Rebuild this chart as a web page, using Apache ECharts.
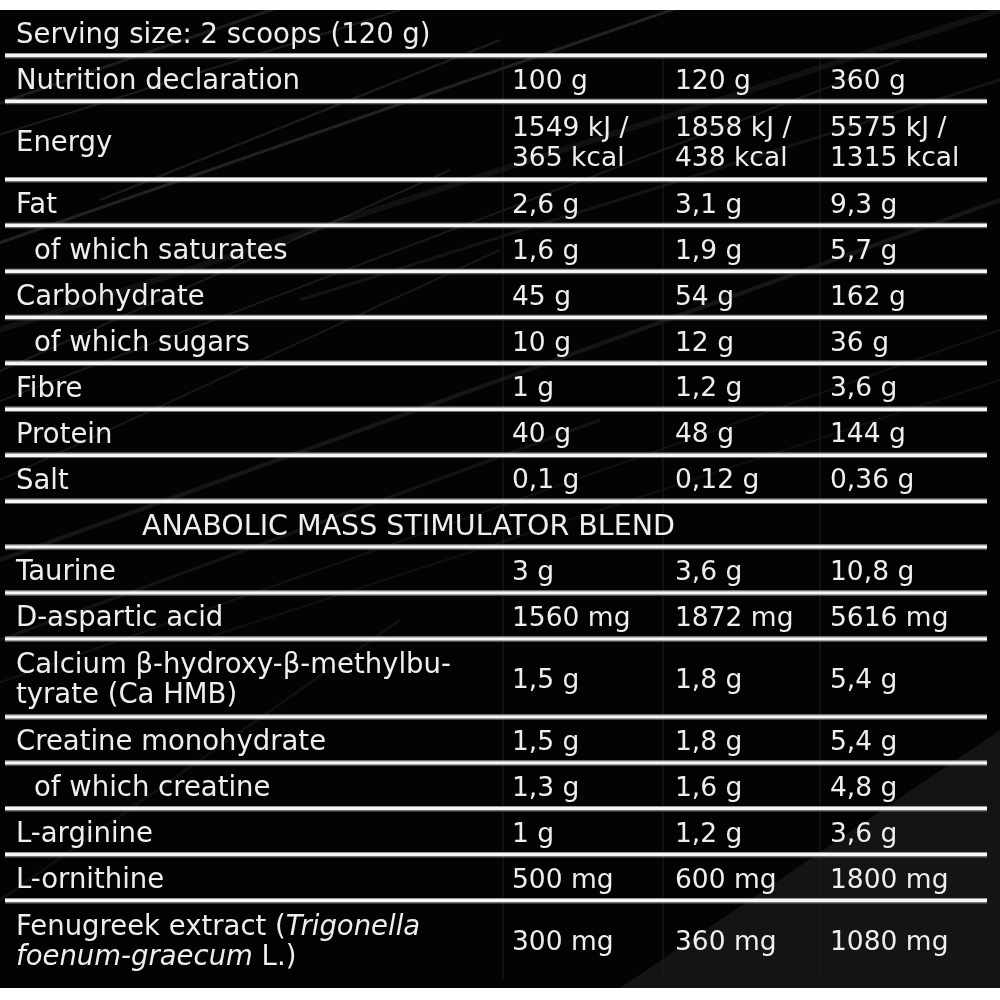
<!DOCTYPE html>
<html>
<head>
<meta charset="utf-8">
<script src="https://cdn.jsdelivr.net/npm/echarts@6/dist/echarts.min.js"></script>
<style>
html,body{margin:0;padding:0;background:#fff;}
#chart{width:1000px;height:1000px;}
</style>
</head>
<body>
<div id="chart"></div>
<script>
// ---- data ----
const servingText = 'Serving size: 2 scoops (120 g)';
const declarationLabel = 'Nutrition declaration';
const columnHeaders = ['100 g', '120 g', '360 g'];
const sectionTitle = 'ANABOLIC MASS STIMULATOR BLEND';

const nutrients = ['Energy', 'Fat', 'of which saturates', 'Carbohydrate', 'of which sugars', 'Fibre', 'Protein', 'Salt'];
const nutr100 = ['1549 kJ /\n365 kcal', '2,6 g', '1,6 g', '45 g', '10 g', '1 g', '40 g', '0,1 g'];
const nutr120 = ['1858 kJ /\n438 kcal', '3,1 g', '1,9 g', '54 g', '12 g', '1,2 g', '48 g', '0,12 g'];
const nutr360 = ['5575 kJ /\n1315 kcal', '9,3 g', '5,7 g', '162 g', '36 g', '3,6 g', '144 g', '0,36 g'];

const blendItems = ['Taurine', 'D-aspartic acid', 'Calcium β-hydroxy-β-methylbu-\ntyrate (Ca HMB)', 'Creatine monohydrate', 'of which creatine', 'L-arginine', 'L-ornithine', 'Fenugreek extract ({i|Trigonella}\n{i|foenum-graecum} L.)'];
const blend100 = ['3 g', '1560 mg', '1,5 g', '1,5 g', '1,3 g', '1 g', '500 mg', '300 mg'];
const blend120 = ['3,6 g', '1872 mg', '1,8 g', '1,8 g', '1,6 g', '1,2 g', '600 mg', '360 mg'];
const blend360 = ['10,8 g', '5616 mg', '5,4 g', '5,4 g', '4,8 g', '3,6 g', '1800 mg', '1080 mg'];

// ---- build table rows ----
const rows = [];
rows.push({kind: 'serving', label: servingText, vals: []});
rows.push({kind: 'row', label: declarationLabel, vals: columnHeaders});
nutrients.forEach((n, i) => rows.push({kind: 'row', label: n, vals: [nutr100[i], nutr120[i], nutr360[i]]}));
rows.push({kind: 'section', label: sectionTitle, vals: []});
blendItems.forEach((n, i) => rows.push({kind: 'row', label: n, vals: [blend100[i], blend120[i], blend360[i]]}));

function lineCount(r) {
  let m = r.label.split('\n').length;
  r.vals.forEach(v => { m = Math.max(m, v.split('\n').length); });
  return m;
}
const spans = rows.map(r => lineCount(r) === 1 ? 1 : 1.7);
const starts = [];
let acc = 0;
spans.forEach(s => { starts.push(acc); acc += s; });
const totalUnits = acc;

// ---- layout / style ----
const FONT = '"DejaVu Sans"';
const FS_LABEL = 27.5;
const FS_VALUE = 26.5;
const FS_SECTION = 28.5;
const colX = [16, 512, 675, 830];
const indentX = 34;
const sectionX = 142;
const lineLeft = 5, lineRight = 987;
const sepX = [503, 663, 820];

function renderRow(params, api) {
  const idx = api.value(0);
  const r = rows[idx];
  const pTop = api.coord([0, starts[idx]]);
  const pBot = api.coord([0, starts[idx] + spans[idx]]);
  const y0 = pTop[1], y1 = pBot[1];
  const cy = (y0 + y1) / 2 + 3;
  const children = [];
  if (r.kind !== 'serving') {
    sepX.forEach(x => {
      const px = api.coord([x, 0])[0];
      children.push({type: 'rect', shape: {x: px - 0.5, y: y0, width: 1, height: y1 - y0}, style: {fill: '#1e1e1e'}, z2: 1});
    });
  }
  if (idx > 0) {
    const xl = api.coord([lineLeft, 0])[0], xr = api.coord([lineRight, 0])[0];
    children.push({type: 'rect', shape: {x: xl, y: y0 - 3, width: xr - xl, height: 1}, style: {fill: '#9a9a9a'}, z2: 5});
    children.push({type: 'rect', shape: {x: xl, y: y0 - 2, width: xr - xl, height: 3.5}, style: {fill: '#f6f6f6'}, z2: 5});
    children.push({type: 'rect', shape: {x: xl, y: y0 + 1.5, width: xr - xl, height: 1}, style: {fill: '#6a6a6a'}, z2: 5});
  }
  const textStyle = (txt, x, fs) => ({
    type: 'text', z2: 10,
    style: {
      text: txt, x: x, y: cy, fill: '#eeeeee', fontFamily: FONT, fontSize: fs,
      verticalAlign: 'middle', align: 'left', lineHeight: 30,
      rich: {i: {fontStyle: 'italic', fontFamily: FONT, fontSize: fs, fill: '#eeeeee', lineHeight: 30}}
    }
  });
  let lx = colX[0];
  let fs = FS_LABEL;
  if (r.kind === 'section') { lx = sectionX; fs = FS_SECTION; }
  else if (/^of which/.test(r.label)) lx = indentX;
  children.push(textStyle(r.label, api.coord([lx, 0])[0], fs));
  r.vals.forEach((v, k) => children.push(textStyle(v, api.coord([colX[k + 1], 0])[0], FS_VALUE)));
  return {type: 'group', children: children};
}

// background streaks (decorative)
const streaks = [
  [-50, 260, 700, 0, 0.12, 3], [-50, 420, 900, 60, 0.09, 2], [0, 560, 1000, 200, 0.08, 4],
  [-50, 700, 1000, 330, 0.06, 2], [100, 200, 500, 40, 0.10, 2], [0, 330, 1000, 10, 0.06, 6],
  [0, 640, 600, 420, 0.07, 3], [200, 640, 1000, 380, 0.05, 2], [-50, 150, 400, 10, 0.10, 2],
  [-20, 110, 300, 0, 0.10, 3], [0, 480, 500, 250, 0.08, 2], [300, 300, 1000, 80, 0.07, 3],
  [-20, 380, 450, 170, 0.09, 2], [0, 900, 400, 620, 0.05, 3]
];
const graphics = [
  {type: 'rect', z: -10, shape: {x: 0, y: 10, width: 1000, height: 978}, style: {fill: '#030303'}},
  {type: 'polygon', z: -9, shape: {points: [[620, 988], [1000, 730], [1000, 988]]}, style: {fill: '#141414'}}
];
streaks.forEach(s => graphics.push({type: 'line', z: -8, shape: {x1: s[0], y1: s[1], x2: s[2], y2: s[3]}, style: {stroke: 'rgba(255,255,255,' + s[4] + ')', lineWidth: s[5]}}));
graphics.push({type: 'rect', z: -7, shape: {x: 0, y: 0, width: 1000, height: 10}, style: {fill: '#fff'}});
graphics.push({type: 'rect', z: -7, shape: {x: 0, y: 988, width: 1000, height: 12}, style: {fill: '#fff'}});

const chart = echarts.init(document.getElementById('chart'), null, {renderer: 'canvas'});
chart.setOption({
  backgroundColor: '#ffffff',
  animation: false,
  graphic: graphics,
  grid: {left: 0, right: 0, top: 10, bottom: 21},
  xAxis: {type: 'value', min: 0, max: 1000, show: false},
  yAxis: {type: 'value', min: 0, max: totalUnits, inverse: true, show: false},
  series: [{
    type: 'custom',
    coordinateSystem: 'cartesian2d',
    renderItem: renderRow,
    data: rows.map((r, i) => [i]),
    clip: false,
    silent: true
  }]
});
</script>
</body>
</html>
